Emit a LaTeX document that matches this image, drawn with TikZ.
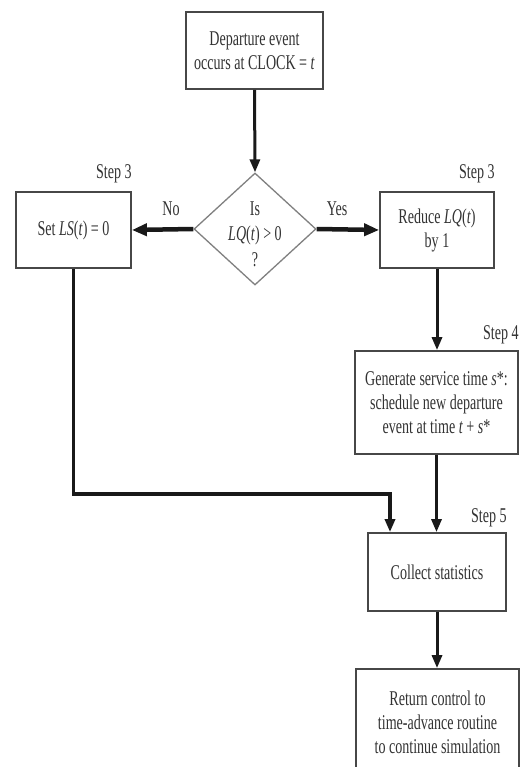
\documentclass[tikz,border=0pt]{standalone}
\usepackage{fontspec}
\setmainfont[FakeStretch=0.67]{Liberation Serif}
\usetikzlibrary{shapes.geometric,arrows.meta}
\begin{document}
\begin{tikzpicture}[x=1pt,y=-1pt,
  every node/.style={font=\fontsize{21}{24}\selectfont, text=black!80},
  box/.style={draw=black!72, line width=1.8pt, rectangle, align=center, inner sep=0pt},
  dec/.style={draw=black!50, line width=1.3pt, diamond, inner sep=0pt},
  conn/.style={draw=black!90, line width=3pt, -{Triangle[length=13pt,width=10pt]}},
  hconn/.style={draw=black!90, line width=4.5pt, -{Triangle[length=15pt,width=12pt]}},
  lbl/.style={anchor=base east, inner sep=0pt}
]
\clip (0,0) rectangle (524,767);
\fill[white] (0,0) rectangle (524,767);
\node[box, minimum width=137pt, minimum height=77pt] (top) at (254.5,50.5) {Departure event\\occurs at CLOCK = \textit{t}};
\node[dec, minimum width=122pt, minimum height=112pt] (dia) at (255,229) {};
\node[align=center, inner sep=0pt, font=\fontsize{21}{25.5}\selectfont] (diatext) at (255,234) {Is\\\textit{LQ}(\textit{t}) > 0\\?};
\node[box, minimum width=115pt, minimum height=76pt] (left) at (73.5,230) {Set \textit{LS}(\textit{t}) = 0};
\node[box, minimum width=114pt, minimum height=76pt] (right) at (437,230) {Reduce \textit{LQ}(\textit{t})\\by 1};
\node[box, minimum width=163pt, minimum height=103pt] (step4) at (436.5,402.5) {Generate service time \textit{s}*:\\schedule new departure\\event at time \textit{t} + \textit{s}*};
\node[box, minimum width=138pt, minimum height=78pt] (step5) at (437,572) {Collect statistics};
\node[box, minimum width=163pt, minimum height=106pt] (last) at (437.5,722) {Return control to\\time-advance routine\\to continue simulation};

\node[lbl] (s3l) at ([yshift=13pt]left.north east) {Step 3};
\node[lbl] (s3r) at ([yshift=13pt]right.north east) {Step 3};
\node[lbl] (s4) at ([yshift=11pt]step4.north east) {Step 4};
\node[lbl] (s5) at ([yshift=10pt]step5.north east) {Step 5};
\node[anchor=base, inner sep=0pt] (no) at (171,215) {No};
\node[anchor=base, inner sep=0pt] (yes) at (337,215) {Yes};

\coordinate (bend) at (390,494);
\draw[conn] (top.south) -- (dia.north);
\draw[hconn] (dia.west) -- (left.east);
\draw[hconn] (dia.east) -- (right.west);
\draw[conn] (right.south) -- (right.south |- step4.north);
\draw[conn] (step4.south) -- (step4.south |- step5.north);
\draw[conn, line width=3.5pt] (left.south) |- (bend) -- (bend |- step5.north);
\draw[conn] (step5.south) -- (step5.south |- last.north);
\end{tikzpicture}
\end{document}
